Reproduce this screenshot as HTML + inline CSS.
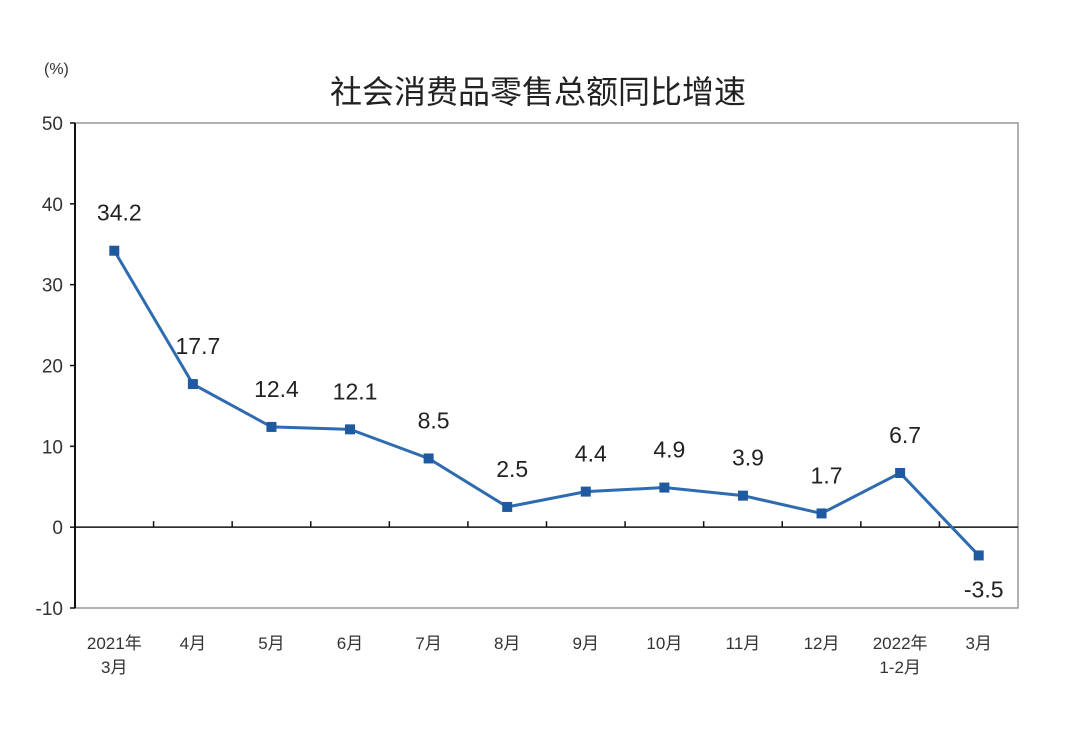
<!DOCTYPE html>
<html><head><meta charset="utf-8"><style>
body{margin:0;background:#fff;}
svg text{font-family:"Liberation Sans","Noto Sans CJK SC",sans-serif;}
</style></head><body>
<svg width="1080" height="725" viewBox="0 0 1080 725" id="c">
<text x="44" y="74" font-size="16" fill="#333">(%)</text>
<text x="538" y="103" font-size="32" text-anchor="middle" fill="#222">社会消费品零售总额同比增速</text>
<g id="plot"></g>
</svg>
<script>
const categories=[["2021年","3月"],["4月"],["5月"],["6月"],["7月"],["8月"],["9月"],["10月"],["11月"],["12月"],["2022年","1-2月"],["3月"]];
const values=[34.2,17.7,12.4,12.1,8.5,2.5,4.4,4.9,3.9,1.7,6.7,-3.5];
const labels=["34.2","17.7","12.4","12.1","8.5","2.5","4.4","4.9","3.9","1.7","6.7","-3.5"];
const yTicks=[50,40,30,20,10,0,-10];
const NS="http://www.w3.org/2000/svg";
const g=document.getElementById('plot');
const L=75,R=1018,T=123,B=608,ymin=-10,ymax=50;
const y=v=>B-(v-ymin)/(ymax-ymin)*(B-T);
const bw=(R-L)/categories.length;
const x=i=>L+bw*(i+0.5);
function mk(t,a){const e=document.createElementNS(NS,t);for(const k in a)e.setAttribute(k,a[k]);g.appendChild(e);return e;}
let e;
e=mk('rect',{x:L,y:T,width:R-L,height:B-T,fill:'none',stroke:'#999','stroke-width':1.5});


e=mk('line',{x1:L,y1:T,x2:L,y2:B,stroke:'#111','stroke-width':2});


yTicks.forEach(v=>{
 const t=mk('line',{x1:L-5,y1:y(v),x2:L,y2:y(v),stroke:'#111','stroke-width':1.5});
 
 
 const tx=mk('text',{x:L-12,y:y(v)+7,'font-size':19,'text-anchor':'end',fill:'#333'});
 tx.textContent=String(v);
 
 
});
e=mk('line',{x1:L,y1:y(0),x2:R,y2:y(0),stroke:'#111','stroke-width':1.5});


for(let i=1;i<categories.length;i++){
 const t=mk('line',{x1:L+bw*i,y1:y(0)-6,x2:L+bw*i,y2:y(0),stroke:'#111','stroke-width':1.5});
 
 
}
categories.forEach((c,i)=>{
 c.forEach((s,j)=>{
  const t=mk('text',{x:x(i),y:649+j*24,'font-size':17,'text-anchor':'middle',fill:'#333'});
  t.textContent=s;
  
  
 });
});
e=mk('polyline',{points:values.map((v,i)=>x(i)+','+y(v)).join(' '),fill:'none',stroke:'#2e6bb0','stroke-width':3});


values.forEach((v,i)=>{
 const p=mk('rect',{x:x(i)-5,y:y(v)-5,width:10,height:10,fill:'#1f5aa0'});
 
 
 const ly=v<0?y(v)+42:y(v)-30;
 const t=mk('text',{x:x(i)+5,y:ly,'font-size':23,'text-anchor':'middle',fill:'#222'});
 t.textContent=labels[i];
 
 
});
</script>
</body></html>
